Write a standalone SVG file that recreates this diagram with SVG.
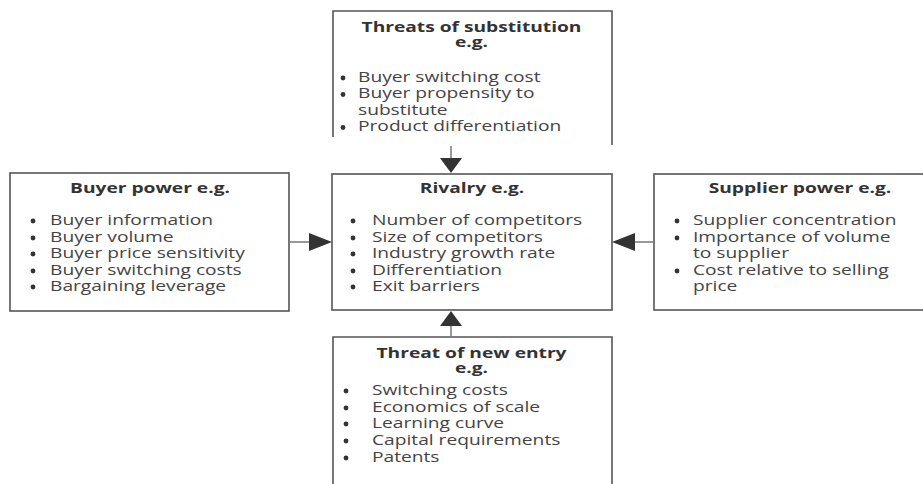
<svg xmlns="http://www.w3.org/2000/svg" width="923" height="484" viewBox="0 0 923 484">
<style>
.box{fill:#fff;stroke:#555;stroke-width:1.6}
.side{fill:none;stroke:#555;stroke-width:1.6}
.t{font-family:"Open Sans","Noto Sans",sans-serif;font-size:14px;font-weight:bold;fill:#333;text-anchor:middle}
.b{font-family:"Open Sans","Noto Sans",sans-serif;font-size:14px;fill:#444}
.dot{fill:#333}
.ln{stroke:#777;stroke-width:1.5;fill:none}
.ah{fill:#333}
</style>
<rect width="923" height="484" fill="#fff"/>
<g id="substitution">
<path class="side" d="M333 137 V11 H612 V145"/>
<g transform="translate(471.5,0) scale(1.37,1)"><text class="t" x="0" y="32">Threats of substitution</text><text class="t" x="0" y="47">e.g.</text></g>
<circle class="dot" cx="343" cy="78" r="2.4"/><circle class="dot" cx="343" cy="94.5" r="2.4"/><circle class="dot" cx="343" cy="127.5" r="2.4"/>
<g transform="translate(358,0) scale(1.37,1)"><text class="b" x="0" y="82">Buyer switching cost</text><text class="b" x="0" y="98.5">Buyer propensity to</text><text class="b" x="0" y="115">substitute</text><text class="b" x="0" y="131.5">Product differentiation</text></g>
</g>
<g id="buyer">
<rect class="box" x="10" y="173" width="279" height="138"/>
<g transform="translate(150,0) scale(1.37,1)"><text class="t" x="0" y="193">Buyer power e.g.</text></g>
<circle class="dot" cx="33" cy="221" r="2.4"/><circle class="dot" cx="33" cy="238" r="2.4"/><circle class="dot" cx="33" cy="254" r="2.4"/><circle class="dot" cx="33" cy="271" r="2.4"/><circle class="dot" cx="33" cy="287" r="2.4"/>
<g transform="translate(50,0) scale(1.37,1)"><text class="b" x="0" y="225">Buyer information</text><text class="b" x="0" y="242">Buyer volume</text><text class="b" x="0" y="258">Buyer price sensitivity</text><text class="b" x="0" y="275">Buyer switching costs</text><text class="b" x="0" y="291">Bargaining leverage</text></g>
</g>
<g id="rivalry">
<rect class="box" x="332" y="174" width="280" height="136"/>
<g transform="translate(472,0) scale(1.37,1)"><text class="t" x="0" y="193">Rivalry e.g.</text></g>
<circle class="dot" cx="353" cy="221" r="2.4"/><circle class="dot" cx="353" cy="238" r="2.4"/><circle class="dot" cx="353" cy="254" r="2.4"/><circle class="dot" cx="353" cy="271" r="2.4"/><circle class="dot" cx="353" cy="287" r="2.4"/>
<g transform="translate(372,0) scale(1.37,1)"><text class="b" x="0" y="225">Number of competitors</text><text class="b" x="0" y="242">Size of competitors</text><text class="b" x="0" y="258">Industry growth rate</text><text class="b" x="0" y="275">Differentiation</text><text class="b" x="0" y="291">Exit barriers</text></g>
</g>
<g id="supplier">
<rect class="box" x="654" y="174" width="300" height="136"/>
<g transform="translate(800,0) scale(1.37,1)"><text class="t" x="0" y="193">Supplier power e.g.</text></g>
<circle class="dot" cx="677" cy="221" r="2.4"/><circle class="dot" cx="677" cy="238" r="2.4"/><circle class="dot" cx="677" cy="271" r="2.4"/>
<g transform="translate(693,0) scale(1.37,1)"><text class="b" x="0" y="225">Supplier concentration</text><text class="b" x="0" y="242">Importance of volume</text><text class="b" x="0" y="258">to supplier</text><text class="b" x="0" y="275">Cost relative to selling</text><text class="b" x="0" y="291">price</text></g>
</g>
<g id="newentry">
<path class="side" d="M333 484 V337 H612 V484"/>
<g transform="translate(471.5,0) scale(1.37,1)"><text class="t" x="0" y="358">Threat of new entry</text><text class="t" x="0" y="373">e.g.</text></g>
<circle class="dot" cx="346" cy="391" r="2.4"/><circle class="dot" cx="346" cy="408" r="2.4"/><circle class="dot" cx="346" cy="424" r="2.4"/><circle class="dot" cx="346" cy="441" r="2.4"/><circle class="dot" cx="346" cy="458" r="2.4"/>
<g transform="translate(372,0) scale(1.37,1)"><text class="b" x="0" y="395">Switching costs</text><text class="b" x="0" y="412">Economics of scale</text><text class="b" x="0" y="428">Learning curve</text><text class="b" x="0" y="445">Capital requirements</text><text class="b" x="0" y="462">Patents</text></g>
</g>
<g id="connectors">
<line class="ln" x1="451" y1="146" x2="451" y2="159"/><polygon class="ah" points="440,158 462,158 451,173"/>
<line class="ln" x1="451" y1="325" x2="451" y2="337"/><polygon class="ah" points="451,311 440,326 462,326"/>
<line class="ln" x1="289" y1="242" x2="310" y2="242"/><polygon class="ah" points="309,233 309,251 332,242"/>
<line class="ln" x1="634" y1="242" x2="654" y2="242"/><polygon class="ah" points="635,233 635,251 612,242"/>
</g>
</svg>
